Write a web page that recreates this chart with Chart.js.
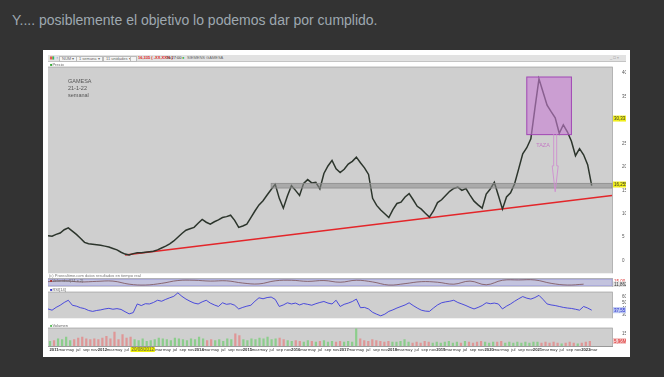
<!DOCTYPE html>
<html>
<head>
<meta charset="utf-8">
<script src="https://cdn.jsdelivr.net/npm/chart.js@4.4.1/dist/chart.umd.min.js"></script>
<style>
  body { margin: 0; background: #333333; width: 664px; height: 377px; overflow: hidden; position: relative; font-family: Arial, "Liberation Sans", sans-serif; }
  .title { position: absolute; left: 12px; top: 12px; font-size: 14px; color: #9ea8b0; white-space: nowrap; }
  .frame { position: absolute; left: 43px; top: 50px; width: 587px; height: 307px; background: #fff; }
  .tb { position: absolute; left: 48px; top: 55px; width: 578px; height: 7px; background: #e2e2e2; border-bottom: 1px solid #c4c4c4; box-sizing: border-box; }
  .tb span, .lbl { position: absolute; font-size: 4px; line-height: 6px; color: #666; white-space: nowrap; }
  .box { border: 1px solid #bbb; background: #f4f4f4; padding: 0 2px; line-height: 4px !important; top: 1px; }
  canvas { position: absolute; }
  .note { position: absolute; font-size: 5.5px; color: #555; line-height: 7px; }
</style>
</head>
<body>
<div class="title">Y.... posiblemente el objetivo lo podemos dar por cumplido.</div>
<div class="frame"></div>
<div class="tb">
  <span style="left:2px;color:#d33">&#9646;<b style="color:#3a3">&#9646;</b></span>
  <span style="left:8px;color:#36c">&#8597;</span>
  <span class="box" style="left:11px">NUM &#9662;</span>
  <span class="box" style="left:28px">1 semana &#9662;</span>
  <span class="box" style="left:55px">11 unidades &#9662;</span>
  <span class="box" style="left:82px">&nbsp;</span>
  <span style="left:90px;color:#d22;font-weight:bold">16,335 ( -XX,XX% )</span>
  <span style="left:118px;color:#333">16:27:00</span>
  <span style="left:134px;color:#2a2">&#9679;</span>
  <span style="left:139px">SIEMENS GAMESA</span>
  <span style="left:562px;color:#888">_ &#9633; &#215;</span>
</div>

<canvas id="main" width="578" height="216" style="left:48px;top:62px"></canvas>
<canvas id="vel" width="578" height="9" style="left:48px;top:278px"></canvas>
<canvas id="rsi" width="578" height="36" style="left:48px;top:287px"></canvas>
<canvas id="vol" width="578" height="30" style="left:48px;top:323px"></canvas>

<div class="lbl" style="left:50px;top:62px"><b style="color:#3a3">&#9632;</b>Precio</div>
<div class="note" style="left:68px;top:78px">GAMESA<br>21-1-22<br>semanal</div>
<div class="lbl" style="left:49px;top:273px;color:#777">(c) Prorealtime.com  datos resultados en tiempo real</div>
<div class="lbl" style="left:50px;top:278px"><b style="color:#a33">&#9632;</b>Velocidad(14 x 2)</div>
<div class="lbl" style="left:50px;top:287px"><b style="color:#33c">&#9632;</b>RSI[14]</div>
<div class="lbl" style="left:50px;top:323px"><b style="color:#5b5">&#9632;</b>Volumen</div>

<script>
// monthly categories, dic 2010 .. jul 2022
const monthNames = ['ene', 'feb', 'mar', 'abr', 'may', 'jun', 'jul', 'ago', 'sep', 'oct', 'nov', 'dic'];
const months = ['2010-12'];
for (let y = 2011; y <= 2022; y++) {
  for (let m = 1; m <= 12; m++) {
    if (y < 2022 || m <= 7) months.push(`${y}-${String(m).padStart(2, '0')}`);
  }
}

// weekly chart read roughly once a month
const price = [
  5.3, 5.2, 5.6, 5.9, 6.6, 7.0, 6.3, 5.6, 4.8, 3.9,
  3.6, 3.5, 3.4, 3.3, 3.1, 2.9, 2.6, 2.3, 1.8, 1.4,
  1.2, 1.5, 1.7, 1.7, 1.8, 1.9, 2.0, 2.3, 2.7, 3.1,
  3.6, 4.2, 5.0, 5.8, 6.5, 6.8, 7.1, 8.0, 8.8, 8.2,
  7.8, 8.3, 8.7, 9.2, 9.4, 9.7, 8.6, 7.1, 7.4, 7.8,
  9.2, 10.6, 11.9, 12.8, 14.0, 15.2, 16.3, 13.3, 11.2, 13.8,
  16.0, 15.0, 13.9, 16.5, 17.3, 16.6, 16.7, 15.3, 18.6, 20.2,
  21.4, 19.6, 18.8, 19.5, 20.6, 21.2, 22.1, 20.9, 19.8, 18.4,
  13.3, 11.8, 10.8, 10.0, 9.2, 10.9, 12.2, 12.5, 13.6, 14.3,
  13.0, 11.6, 11.0, 10.1, 9.3, 10.6, 12.4, 13.0, 13.9, 14.8,
  15.4, 15.7, 15.0, 15.4, 14.0, 12.7, 11.9, 11.2, 14.2, 15.3,
  16.7, 13.9, 11.0, 13.6, 14.5, 16.4, 19.6, 22.8, 24.1, 26.0,
  32.5, 38.8, 36.0, 33.2, 31.8, 30.5, 27.2, 29.0, 27.5, 25.5,
  22.4, 23.9, 22.6, 20.5, 16.0
];

const rsi = [
  39.5, 37.5, 42, 45.5, 50, 53.6, 45.5, 44, 41.5, 40,
  37, 35.5, 37, 38, 39.5, 40.5, 39, 40, 38.7, 35,
  31.5, 33.5, 47.6, 45, 48, 47.6, 50, 53.6, 52, 55,
  57.6, 60, 65.6, 60, 55.5, 52, 49, 47.6, 51, 53.6,
  49, 46, 43.5, 49.5, 47, 48, 45.5, 39.5, 42, 44,
  45.5, 52, 57.6, 56, 58, 58.8, 55, 43.5, 46, 49.5,
  47.6, 49, 46, 48.3, 47, 45.5, 48, 50, 51.6, 49,
  47.6, 53.6, 43.5, 47, 49, 51.6, 55.5, 41.5, 42, 39.5,
  34, 31, 28.3, 31, 35.5, 38, 41, 43.5, 46, 49.5,
  45, 41, 37.5, 36, 35.5, 41, 46, 49.5, 51, 52,
  53.6, 50, 47.6, 45, 42, 39.5, 42, 45, 49.5, 48,
  49, 47.6, 39.5, 44, 47.6, 52, 56, 59.6, 57, 55.5,
  58, 61.6, 55, 47.6, 46, 45, 43.5, 42, 41, 40.3,
  39, 37.5, 43.5, 41, 37.5
];

// volume in millions
const volume = [
  6, 7, 9, 8, 11, 7, 8, 10, 11, 9,
  8, 9, 8, 10, 12, 9, 17, 8, 14, 10,
  11, 8, 7, 9, 6, 7, 8, 10, 9, 8,
  7, 10, 9, 8, 7, 9, 8, 11, 9, 7,
  8, 7, 8, 6, 9, 8, 15, 13, 8, 7,
  9, 8, 10, 9, 11, 8, 9, 10, 8, 7,
  6, 7, 6, 5, 7, 6, 5, 6, 7, 5,
  6, 5, 6, 5, 6, 5, 21, 9, 7, 6,
  8, 7, 6, 5, 6, 5, 5, 6, 8, 5,
  4, 5, 4, 6, 5, 4, 5, 4, 5, 6,
  4, 5, 4, 6, 5, 4, 5, 6, 5, 4,
  5, 5, 6, 4, 5, 4, 5, 4, 5, 4,
  5, 5, 4, 5, 4, 5, 4, 3, 4, 5,
  4, 3, 4, 5, 6
];

// oscillator read every 4 months
const velocidad = [
  0.3, 0.6, 0.2, 0.4, 0.5, -0.6, -0.9, -0.3, 0.7, 0.8,
  0.5, 0.6, -0.2, -0.5, 0.6, 0.8, 0.4, 0.7, 0.1, 0.8,
  0.2, -0.9, -0.4, 0.3, 0.1, -0.6, 0.5, -0.8, 0.8, 0.9,
  0.9, -0.3, -0.9, -0.6
];

const priceTicks = [0, 5, 10, 15, 20, 25, 30, 35, 40];
const rsiTicks = [30, 40, 50, 60];
const volTicks = [5, 10, 15, 20];

const trendLine = [{ x: '2012-07', y: 1.2 }, { x: '2022-07', y: 13.9 }];
const supportBand = { from: '2015-07', low: 15.5, high: 16.5 };
const tazaBox = { from: '2020-10', to: '2021-09', low: 26.9, high: 39.2 };
const tazaArrow = { at: '2021-05', from: 27, to: 14.7 };
const tazaLabel = { at: '2021-02', y: 24.5, text: 'TAZA' };
const priceTags = [{ y: 30.33, text: '30,33' }, { y: 16.255, text: '16,255' }];

const monthLabel = (i) => {
  const [y, m] = months[i].split('-').map(Number);
  if (i > 136) return '';
  if (m === 1) return String(y);
  return m % 2 === 1 ? monthNames[m - 1] : '';
};

const fixedAxisWidth = (scale) => { scale.width = 14; };

const panelBg = {
  id: 'panelBg',
  beforeDraw(chart) {
    const { ctx, chartArea: a } = chart;
    ctx.save();
    ctx.fillStyle = '#cfcfcf';
    ctx.fillRect(a.left, a.top, a.right - a.left, a.bottom - a.top);
    ctx.strokeStyle = '#b4b4b4';
    ctx.lineWidth = 1;
    ctx.beginPath();
    ctx.moveTo(a.left, a.top + 0.5);
    ctx.lineTo(a.right, a.top + 0.5);
    ctx.moveTo(a.right + 0.5, a.top);
    ctx.lineTo(a.right + 0.5, a.bottom);
    ctx.stroke();
    ctx.restore();
  }
};

const drawTag = (ctx, a, yPix, text, bg, fg) => {
  ctx.fillStyle = bg;
  ctx.fillRect(a.right + 1, yPix - 3, 13, 6);
  ctx.fillStyle = fg;
  ctx.font = '4.5px Arial';
  ctx.textBaseline = 'middle';
  ctx.textAlign = 'left';
  ctx.fillText(text, a.right + 2, yPix + 0.3);
};

const mainDecor = {
  id: 'mainDecor',
  afterDatasetsDraw(chart) {
    const { ctx, chartArea: a, scales: { x, y } } = chart;
    ctx.save();
    // support band
    const bx = x.getPixelForValue(months.indexOf(supportBand.from));
    const bTop = y.getPixelForValue(supportBand.high);
    const bBot = y.getPixelForValue(supportBand.low);
    ctx.fillStyle = 'rgba(140,140,140,0.55)';
    ctx.fillRect(bx, bTop, a.right - bx, bBot - bTop);
    ctx.strokeStyle = '#8c8c8c';
    ctx.lineWidth = 0.8;
    ctx.strokeRect(bx, bTop, a.right - bx, bBot - bTop);

    // taza box
    const rx0 = x.getPixelForValue(months.indexOf(tazaBox.from));
    const rx1 = x.getPixelForValue(months.indexOf(tazaBox.to));
    const ry0 = y.getPixelForValue(tazaBox.high);
    const ry1 = y.getPixelForValue(tazaBox.low);
    ctx.fillStyle = 'rgba(200,125,212,0.6)';
    ctx.fillRect(rx0, ry0, rx1 - rx0, ry1 - ry0);
    ctx.strokeStyle = '#a046b4';
    ctx.lineWidth = 1;
    ctx.strokeRect(rx0, ry0, rx1 - rx0, ry1 - ry0);

    // arrow down
    const ax = x.getPixelForValue(months.indexOf(tazaArrow.at));
    const ay0 = y.getPixelForValue(tazaArrow.from);
    const ay1 = y.getPixelForValue(tazaArrow.to);
    const headY = ay0 + (ay1 - ay0) * 0.55;
    ctx.strokeStyle = '#cf8fd0';
    ctx.lineWidth = 0.9;
    ctx.beginPath();
    ctx.moveTo(ax - 1.5, ay0);
    ctx.lineTo(ax - 1.5, headY);
    ctx.lineTo(ax - 3, headY);
    ctx.lineTo(ax, ay1);
    ctx.lineTo(ax + 3, headY);
    ctx.lineTo(ax + 1.5, headY);
    ctx.lineTo(ax + 1.5, ay0);
    ctx.stroke();

    // label
    ctx.fillStyle = '#c47ac4';
    ctx.font = '5.5px Arial';
    ctx.textAlign = 'center';
    ctx.textBaseline = 'middle';
    ctx.fillText(tazaLabel.text, x.getPixelForValue(months.indexOf(tazaLabel.at)), y.getPixelForValue(tazaLabel.y));

    priceTags.forEach(t => drawTag(ctx, a, y.getPixelForValue(t.y), t.text, '#f0ee1c', '#333'));
    ctx.restore();
  }
};

const velDecor = {
  id: 'velDecor',
  beforeDatasetsDraw(chart) {
    const { ctx, chartArea: a, scales: { y } } = chart;
    const t = y.getPixelForValue(1.15), b = y.getPixelForValue(-1.15);
    ctx.save();
    ctx.fillStyle = 'rgba(185,185,235,0.55)';
    ctx.fillRect(a.left, t, a.right - a.left, b - t);
    ctx.strokeStyle = '#9c9cda';
    ctx.lineWidth = 0.7;
    ctx.strokeRect(a.left, t, a.right - a.left, b - t);
    ctx.restore();
  },
  afterDraw(chart) {
    const { ctx, chartArea: a, scales: { y } } = chart;
    ctx.save();
    drawTag(ctx, a, y.getPixelForValue(0.5), '15,00', '#fff', '#d33');
    drawTag(ctx, a, y.getPixelForValue(-0.7), '11,862', '#e4e4e4', '#333');
    ctx.restore();
  }
};

const rsiDecor = {
  id: 'rsiDecor',
  afterDraw(chart) {
    const { ctx, chartArea: a, scales: { y } } = chart;
    ctx.save();
    drawTag(ctx, a, y.getPixelForValue(rsi[rsi.length - 1]), '37,55', '#b9c6f2', '#2a2acc');
    ctx.restore();
  }
};

const volDecor = {
  id: 'volDecor',
  afterDraw(chart) {
    const { ctx, chartArea: a, scales: { x, y } } = chart;
    ctx.save();
    drawTag(ctx, a, y.getPixelForValue(volume[volume.length - 1]), '5,96M', '#f3c8c8', '#d22');
    // cursor date box on the time axis
    const hx0 = x.getPixelForValue(months.indexOf('2012-08'));
    const hx1 = x.getPixelForValue(months.indexOf('2013-02'));
    ctx.fillStyle = '#eef000';
    ctx.fillRect(hx0, a.bottom + 1, hx1 - hx0, 5);
    ctx.fillStyle = '#555';
    ctx.font = '4.5px Arial';
    ctx.textAlign = 'center';
    ctx.textBaseline = 'middle';
    ctx.fillText('20/08/2012', (hx0 + hx1) / 2, a.bottom + 3.6);
    ctx.restore();
  }
};

const hiddenX = { type: 'category', display: false };
const rightAxis = (extra) => Object.assign({
  position: 'right',
  afterFit: fixedAxisWidth,
  grid: { display: false },
  border: { display: false },
  ticks: { font: { size: 4.5 }, color: '#555', padding: 2 }
}, extra);

const base = {
  responsive: false,
  animation: false,
  layout: { padding: 0 },
  plugins: { legend: { display: false }, tooltip: { enabled: false } },
  elements: { point: { radius: 0 } }
};

new Chart(document.getElementById('main'), {
  type: 'line',
  data: {
    labels: months,
    datasets: [
      { data: price, borderColor: '#2c352c', borderWidth: 1.5, tension: 0 },
      { data: trendLine, borderColor: '#e3262a', borderWidth: 1.4, spanGaps: true }
    ]
  },
  options: {
    ...base,
    scales: {
      x: hiddenX,
      y: rightAxis({
        min: -2.7, max: 41.4,
        afterBuildTicks: (s) => { s.ticks = priceTicks.map(v => ({ value: v })); }
      })
    }
  },
  plugins: [panelBg, mainDecor]
});

new Chart(document.getElementById('vel'), {
  type: 'line',
  data: {
    labels: months,
    datasets: [{
      data: velocidad.map((v, k) => ({ x: months[k * 4], y: v })),
      borderColor: '#7a4f55', borderWidth: 0.8, tension: 0.4
    }]
  },
  options: {
    ...base,
    scales: {
      x: hiddenX,
      y: rightAxis({ min: -1.6, max: 1.6, ticks: { display: false } })
    }
  },
  plugins: [panelBg, velDecor]
});

new Chart(document.getElementById('rsi'), {
  type: 'line',
  data: {
    labels: months,
    datasets: [{ data: rsi, borderColor: '#3b3bdc', borderWidth: 0.9, tension: 0 }]
  },
  options: {
    ...base,
    scales: {
      x: hiddenX,
      y: rightAxis({
        min: 24.3, max: 67.5,
        afterBuildTicks: (s) => { s.ticks = rsiTicks.map(v => ({ value: v })); }
      })
    }
  },
  plugins: [panelBg, rsiDecor]
});

new Chart(document.getElementById('vol'), {
  type: 'bar',
  data: {
    labels: months,
    datasets: [{
      data: volume,
      backgroundColor: volume.map((v, i) => (i > 0 && price[i] < price[i - 1]) ? 'rgba(226,140,140,0.85)' : 'rgba(128,204,128,0.85)'),
      barPercentage: 1,
      categoryPercentage: 0.55
    }]
  },
  options: {
    ...base,
    scales: {
      x: {
        type: 'category',
        afterFit: (s) => { s.height = 7; },
        grid: { display: false, drawTicks: false },
        border: { color: '#999' },
        ticks: {
          autoSkip: false, maxRotation: 0, padding: 1, color: '#333',
          font: (c) => ({ size: 4.2, weight: months[c.index] && months[c.index].endsWith('-01') ? 'bold' : 'normal' }),
          callback: (v, i) => monthLabel(i)
        }
      },
      y: rightAxis({
        min: 0, max: 22,
        afterBuildTicks: (s) => { s.ticks = volTicks.map(v => ({ value: v })); },
        ticks: { font: { size: 4.5 }, color: '#555', padding: 2, callback: (v) => `${v}M` }
      })
    }
  },
  plugins: [panelBg, volDecor]
});
</script>
</body>
</html>
